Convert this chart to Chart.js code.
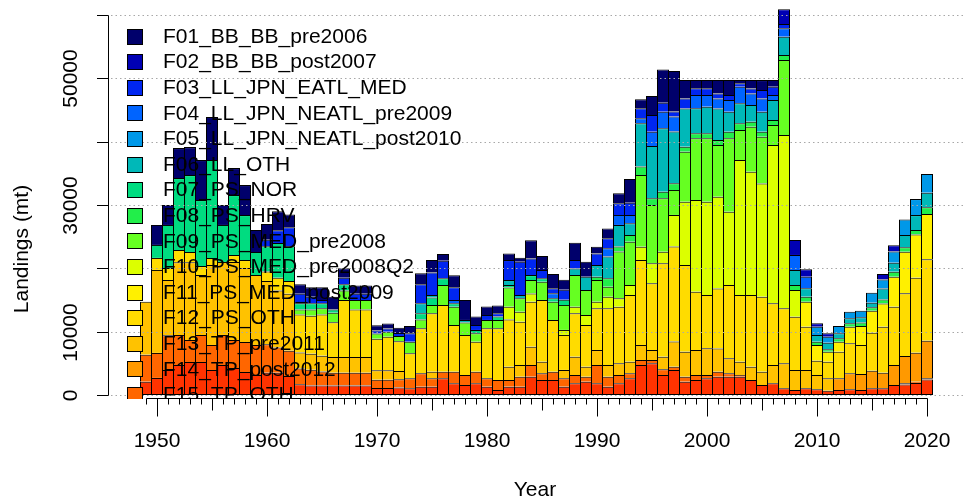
<!DOCTYPE html>
<html>
<head>
<meta charset="utf-8">
<script src="https://cdn.jsdelivr.net/npm/chart.js@4.4.1/dist/chart.umd.min.js"></script>
<style>
  html, body { margin: 0; padding: 0; background: #ffffff; }
  canvas { display: block; }
</style>
</head>
<body>
<canvas id="landings" width="965" height="502"></canvas>
<script>
// ---- data -------------------------------------------------------------
const years = [1949,1950,1951,1952,1953,1954,1955,1956,1957,1958,1959,
  1960,1961,1962,1963,1964,1965,1966,1967,1968,1969,
  1970,1971,1972,1973,1974,1975,1976,1977,1978,1979,
  1980,1981,1982,1983,1984,1985,1986,1987,1988,1989,
  1990,1991,1992,1993,1994,1995,1996,1997,1998,1999,
  2000,2001,2002,2003,2004,2005,2006,2007,2008,2009,
  2010,2011,2012,2013,2014,2015,2016,2017,2018,2019,2020];

const fleetNames = ["F01_BB_BB_pre2006","F02_BB_BB_post2007","F03_LL_JPN_EATL_MED",
  "F04_LL_JPN_NEATL_pre2009","F05_LL_JPN_NEATL_post2010","F06_LL_OTH","F07_PS_NOR",
  "F08_PS_HRV","F09_PS_MED_pre2008","F10_PS_MED_pre2008Q2","F11_PS_MED_post2009",
  "F12_PS_OTH","F13_TP_pre2011","F14_TP_post2012","F15_TP_OTH","F16_OTH_OTH"];

const fleetColours = ["#00006b","#0000b4","#0026f0","#0064ff","#0098e8","#00b8b8","#00dc80",
  "#22ee4a","#66ff22","#dcff00","#fff000","#ffdc00","#ffc200","#ff9900","#ff6600","#ff3300"];

// landings by fleet (t), one value per year
const F01 = [0,3160,3160,4740,4420,6320,6790,3160,4260,4740,3470,
  2500,3000,2000,1500,1500,2000,2000,1500,1300,1300,
  800,800,800,1160,1740,2000,1050,1890,3160,1320,
  1320,1210,1050,630,2890,2210,2260,1580,2740,2370,
  1050,1530,1580,3740,1420,3000,5260,6420,2890,1320,
  1320,2100,2370,530,1320,1580,1050,0,0,0,
  0,0,0,0,0,0,0,0,0,0,0];
const F02 = [0,0,0,0,0,0,0,0,0,0,0,
  0,0,0,0,0,0,0,0,0,0,
  0,0,0,0,0,0,0,0,0,0,
  0,0,0,0,0,0,0,0,0,0,
  0,0,0,0,0,0,0,0,0,0,
  0,0,0,0,0,0,0,2320,2370,1160,
  530,530,0,0,0,0,840,1000,0,0,0];
const F03 = [0,0,0,0,0,0,0,0,0,0,0,
  1000,2000,3000,1500,1000,500,0,1000,1000,1000,
  500,500,500,1320,3000,3530,2790,2000,0,790,
  790,530,3160,5260,2630,1320,790,1580,1320,0,
  1840,1580,1840,1950,1580,2630,1420,790,1580,1050,
  1050,790,790,530,790,1320,1320,680,0,0,
  0,0,0,0,0,0,0,0,0,0,0];
const F04 = [0,0,0,0,0,0,0,0,0,0,0,
  0,0,0,0,0,0,0,0,0,0,
  0,0,0,0,0,0,0,530,0,0,
  0,0,0,0,0,0,790,0,0,0,
  0,1320,1580,1320,790,2260,2630,2370,0,2100,
  1840,1580,1840,2630,1840,2100,790,1320,2370,1840,
  0,0,0,0,0,0,0,0,0,0,0];
const F05 = [0,0,0,0,0,0,0,0,0,0,0,
  0,0,0,0,0,0,0,0,0,0,
  0,0,0,0,0,0,0,0,0,0,
  0,0,0,0,0,0,0,0,0,0,
  0,0,0,0,0,0,0,0,0,0,
  0,0,0,0,0,0,0,0,0,0,
  1320,950,1160,1050,1050,1580,1420,1740,2470,2530,2950];
const F06 = [0,0,0,0,0,0,0,0,0,0,0,
  0,0,0,0,0,0,0,0,0,0,
  0,0,0,0,1580,420,0,0,420,0,
  0,0,790,530,0,0,0,0,1050,2100,
  1840,3420,3420,1840,6840,8260,10000,8160,6050,3950,
  4210,5000,3160,3160,2630,3160,3160,2890,2370,1320,
  1050,1050,790,790,840,740,1740,1420,1950,2370,2320];
const F07 = [0,2050,6800,11370,12160,10420,15470,5840,9470,7100,3630,
  4000,5500,5500,1000,1000,800,500,1000,0,0,
  0,0,0,0,950,1160,1050,530,0,530,
  0,530,370,0,790,530,530,790,0,0,
  0,0,0,0,0,0,0,0,0,0,
  0,0,0,0,0,0,0,0,0,0,
  0,0,0,0,0,0,0,0,0,0,0];
const F08 = [0,0,0,0,0,0,0,0,0,0,0,
  0,0,0,0,0,0,0,0,0,0,
  0,0,0,0,0,0,0,0,0,0,
  0,0,0,0,0,0,0,0,0,0,
  530,1320,790,1050,1320,1050,1050,1050,790,790,
  790,790,1050,1050,790,790,790,790,790,790,
  530,370,530,530,530,530,630,790,680,680,1050];
const F09 = [0,0,0,0,0,0,0,0,0,0,0,
  0,0,0,800,1000,1000,1500,1500,1500,1500,
  800,800,800,1840,1420,1320,3160,2890,1950,1320,
  1320,1320,3050,2100,2100,2890,2890,3950,5000,3950,
  3420,1580,7370,6840,11320,9210,8420,3950,7890,9740,
  10000,8160,11580,4740,7100,7370,3160,11840,0,0,
  0,0,0,0,0,0,0,0,0,0,0];
const F10 = [0,0,0,0,0,0,0,0,0,0,0,
  0,0,0,0,0,0,0,0,0,0,
  0,0,0,0,0,0,0,0,0,0,
  0,0,2000,1580,1320,0,0,790,1050,1580,
  1050,1840,1320,1580,2100,3160,1840,5000,10000,14470,
  14740,14470,11580,21320,19470,17890,25000,27370,4210,0,
  0,0,0,0,0,0,0,0,0,0,0];
const F11 = [0,0,0,0,0,0,0,0,0,0,0,
  0,0,0,0,0,0,0,0,0,0,
  0,0,0,0,0,0,0,0,0,0,
  0,0,0,0,0,0,0,0,0,0,
  0,0,0,0,0,0,0,0,0,0,
  0,0,0,0,0,0,0,0,0,3950,
  2470,1580,1580,2630,3000,3470,3680,4740,6580,6840,7160];
const F12 = [0,1900,1900,1900,1580,1420,1100,0,1100,1260,0,
  1500,2000,2000,6000,6000,6500,5500,9000,7500,7500,
  5000,5300,4700,3950,7100,9210,10530,7370,6320,4740,
  7890,8160,7470,6840,7100,9740,8160,5530,6840,6580,
  6580,8950,8950,10530,13420,10530,14740,15000,13680,9210,
  8420,9470,11580,10530,11320,11840,9740,8680,8420,6840,
  2260,2630,4210,4740,4580,6000,7260,9210,9890,11840,12840];
const F13 = [8370,13100,8700,11500,12300,9470,12630,11530,12320,11680,11050,
  10000,9000,9000,2500,2500,2500,2500,2500,2500,2500,
  1500,1500,1300,0,0,1050,0,0,0,0,
  0,0,2100,1840,2890,1840,0,1320,2890,1580,
  2370,1840,1840,1840,2370,1580,2000,3950,3950,3950,
  4210,3680,2370,2100,2100,2100,2890,3950,3160,2890,
  2260,1950,0,0,0,0,0,0,0,0,0];
const F14 = [0,0,0,0,0,0,0,0,0,0,0,
  0,0,0,0,0,0,0,0,0,0,
  0,0,0,0,0,0,0,0,0,0,
  0,0,0,0,0,0,0,0,0,0,
  0,0,0,0,0,0,0,0,0,0,
  0,0,0,0,0,0,0,0,0,0,
  0,0,1840,2530,2530,2790,2470,3160,4320,4580,5950];
const F15 = [4260,3950,5500,4740,3470,4260,3950,4740,4420,4740,4740,
  4500,4000,4000,2500,2500,2200,2000,2000,2000,2000,
  1300,1300,1300,1580,2100,1320,1050,1840,1580,1840,
  1320,1580,1050,1580,1840,1050,1320,1320,1320,790,
  2890,1580,1320,790,790,530,890,530,790,790,
  530,790,530,260,0,0,0,0,0,0,
  0,0,0,0,0,0,0,0,200,200,200];
const F16 = [2100,2700,3950,4740,5210,5210,3950,4740,4260,3630,3160,
  3500,3500,3000,1700,1500,1500,1500,1500,1500,1500,
  1100,1100,1200,1050,1320,1320,2630,1840,1580,1840,
  1320,790,1320,1320,2890,2370,2370,1320,1840,2100,
  1840,1320,1840,2630,4740,5000,3160,3950,2100,2370,
  2630,2890,2890,2890,2370,1580,1840,1050,790,1050,
  890,680,790,890,790,1050,1050,1580,1640,1900,2430];

const fleetLandings = [F01,F02,F03,F04,F05,F06,F07,F08,F09,F10,F11,F12,F13,F14,F15,F16];

// axis tick values
const yTicks = [0,10000,20000,30000,40000,50000,60000];
const xLabelYears = [1950,1960,1970,1980,1990,2000,2010,2020];

// ---- drawing helpers ----------------------------------------------------
const FONT = '21px "Liberation Sans", Arial, Helvetica, sans-serif';
const PX_PER_T = 380 / 60000;          // vertical scale of the plot
const PX_PER_YEAR = 11;                // horizontal scale of the plot

const baseGraphics = {
  id: 'baseGraphics',
  afterDatasetsDraw(chart) {
    const { ctx, chartArea: a, scales: { y } } = chart;
    ctx.save();
    // dotted reference lines drawn over the bars
    ctx.strokeStyle = '#a8a8a8';
    ctx.lineWidth = 1;
    ctx.setLineDash([1.5, 3]);
    yTicks.forEach(v => {
      const py = Math.round(y.getPixelForValue(v)) + 0.5;
      ctx.beginPath();
      ctx.moveTo(a.left + 3, py);
      ctx.lineTo(chart.width, py);
      ctx.stroke();
    });
    ctx.restore();
  },
  afterDraw(chart) {
    const { ctx, chartArea: a, scales: { x, y } } = chart;
    ctx.save();
    ctx.fillStyle = '#000';
    ctx.strokeStyle = '#000';
    ctx.lineWidth = 1;
    ctx.font = FONT;

    // legend, clipped to the plotting region
    ctx.save();
    ctx.beginPath();
    ctx.rect(a.left, a.top, a.right - a.left, a.bottom - a.top + 1);
    ctx.clip();
    ctx.textAlign = 'left';
    ctx.textBaseline = 'middle';
    chart.data.datasets.slice().reverse().forEach((ds, i) => {
      const cy = 36 + i * 25.6;
      const top = Math.round(cy - 7.5);
      ctx.fillStyle = ds.backgroundColor;
      ctx.fillRect(127.5, top + 0.5, 15, 15);
      ctx.strokeRect(127.5, top + 0.5, 15, 15);
      ctx.fillStyle = '#000';
      ctx.fillText(ds.label, 163, cy + 1);
    });
    ctx.restore();

    // left axis
    const yTop = Math.round(y.getPixelForValue(yTicks[yTicks.length - 1]));
    const yBot = Math.round(y.getPixelForValue(yTicks[0]));
    ctx.beginPath();
    ctx.moveTo(a.left + 0.5, yTop + 0.5);
    ctx.lineTo(a.left + 0.5, yBot + 0.5);
    ctx.stroke();
    const gap = ctx.measureText('m').width;
    let lastEdge = Infinity;
    yTicks.forEach(v => {
      const py = Math.round(y.getPixelForValue(v)) + 0.5;
      ctx.beginPath();
      ctx.moveTo(a.left - 11, py);
      ctx.lineTo(a.left + 0.5, py);
      ctx.stroke();
      const txt = String(v);
      const w = ctx.measureText(txt).width;
      // skip a label that would crowd the previous one
      if (py + w / 2 + gap <= lastEdge) {
        ctx.save();
        ctx.translate(70, py);
        ctx.rotate(-Math.PI / 2);
        ctx.textAlign = 'center';
        ctx.textBaseline = 'middle';
        ctx.fillText(txt, 0, 1);
        ctx.restore();
        lastEdge = py - w / 2;
      }
    });

    // bottom axis
    const axisY = a.bottom + 0.5;
    const x0 = Math.round(x.getPixelForValue(years[0]));
    const x1 = Math.round(x.getPixelForValue(years[years.length - 1]));
    ctx.beginPath();
    ctx.moveTo(x0 + 0.5, axisY);
    ctx.lineTo(x1 + 0.5, axisY);
    ctx.stroke();
    years.forEach(yr => {
      const px = Math.round(x.getPixelForValue(yr)) + 0.5;
      const len = yr % 10 === 0 ? 18 : (yr % 5 === 0 ? 12 : 6);
      ctx.beginPath();
      ctx.moveTo(px, axisY);
      ctx.lineTo(px, axisY + len);
      ctx.stroke();
    });
    ctx.textAlign = 'center';
    ctx.textBaseline = 'middle';
    xLabelYears.forEach(yr => {
      ctx.fillText(String(yr), x.getPixelForValue(yr), 441);
    });

    // axis titles
    ctx.fillText('Year', (a.left + a.right) / 2, 490);
    ctx.save();
    ctx.translate(22, 249);
    ctx.rotate(-Math.PI / 2);
    ctx.fillText('Landings (mt)', 0, 0);
    ctx.restore();

    ctx.restore();
  }
};

// stack from the last fleet at the bottom up to F01 at the top
const datasets = fleetNames.map((name, k) => ({
  label: name,
  data: years.map((yr, i) => ({ x: yr, y: fleetLandings[k][i] })),
  backgroundColor: fleetColours[k],
  borderColor: '#000',
  borderWidth: 1,
  borderSkipped: k === fleetNames.length - 1 ? false : 'start',
  barThickness: PX_PER_YEAR + 1,
  inflateAmount: 0
})).reverse();

new Chart(document.getElementById('landings'), {
  type: 'bar',
  data: { datasets },
  options: {
    responsive: false,
    animation: false,
    devicePixelRatio: 1,
    layout: { padding: { left: 108, right: 3, top: 0, bottom: 104 } },
    plugins: { legend: { display: false }, tooltip: { enabled: false } },
    scales: {
      x: {
        type: 'linear', stacked: true, offset: false, display: false,
        min: years[0] - 38 / PX_PER_YEAR,
        max: years[0] + 816 / PX_PER_YEAR
      },
      y: {
        type: 'linear', stacked: true, display: false,
        min: -3 / PX_PER_T,
        max: 395 / PX_PER_T
      }
    }
  },
  plugins: [baseGraphics]
});
</script>
</body>
</html>
